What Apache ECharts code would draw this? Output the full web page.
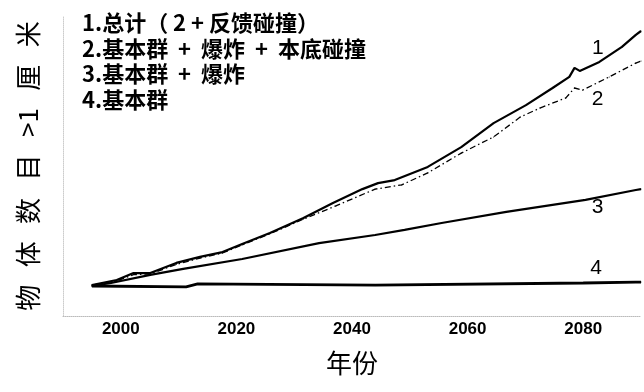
<!DOCTYPE html>
<html>
<head>
<meta charset="utf-8">
<script src="https://cdn.jsdelivr.net/npm/echarts@6/dist/echarts.min.js"></script>
<style>
  html, body { margin: 0; padding: 0; background: #fff; }
  #chart { width: 644px; height: 392px; }
</style>
</head>
<body>
<div id="chart"></div>
<script>
// Years shown on the horizontal axis
const tickYears = [2000, 2020, 2040, 2060, 2080];

// Projected counts of tracked objects (relative units), [year, value]
const totalSeries = [ // 1. 总计（2 + 反馈碰撞）
  [1995.0, 10.3], [1999.3, 12.0], [2002.2, 14.3], [2005.1, 14.3], [2009.6, 17.7],
  [2013.7, 19.7], [2017.6, 21.3], [2021.0, 24.0], [2025.8, 27.7], [2031.6, 32.7],
  [2036.7, 37.7], [2041.8, 42.3], [2044.5, 44.3], [2047.4, 45.3], [2053.1, 49.7],
  [2058.9, 56.3], [2064.5, 64.3], [2070.1, 70.3], [2074.7, 76.0], [2077.6, 79.7],
  [2078.5, 82.7], [2079.4, 81.7], [2082.8, 84.7], [2086.7, 89.7], [2089.1, 93.7],
  [2090.0, 95.0]
];
const collisionSeries = [ // 2. 基本群 + 爆炸 + 本底碰撞
  [1995.0, 10.3], [1999.3, 11.7], [2002.2, 13.8], [2005.1, 14.0], [2009.6, 17.2],
  [2013.7, 19.3], [2017.6, 21.0], [2021.0, 23.7], [2025.8, 27.4], [2031.6, 32.3],
  [2037.2, 36.7], [2044.0, 42.3], [2048.6, 43.7], [2053.1, 47.7], [2058.9, 54.3],
  [2064.5, 59.7], [2069.1, 66.3], [2072.5, 69.3], [2077.0, 72.7], [2078.5, 76.0],
  [2079.9, 75.3], [2084.5, 79.7], [2089.1, 84.3], [2090.0, 85.0]
];
const explosionSeries = [ // 3. 基本群 + 爆炸
  [1995.0, 10.0], [1998.3, 11.0], [2005.1, 13.7], [2010.8, 15.7], [2021.0, 19.0],
  [2034.3, 24.3], [2044.0, 27.0], [2049.1, 28.7], [2055.5, 31.0], [2066.7, 34.7],
  [2080.4, 38.7], [2089.1, 42.0], [2090.0, 42.3]
];
const baseSeries = [ // 4. 基本群
  [1995.0, 10.0], [2011.3, 9.7], [2013.3, 10.7], [2044.0, 10.3], [2080.0, 11.0],
  [2089.1, 11.3], [2090.0, 11.3]
];

// Curve numbers and the year each number sits beside
const curveNames = ['1', '2', '3', '4'];
const curveLabelYears = [2079.4, 2079.9, 2080.4, 2080.0];

const legendLines = [
  '1.总计（ 2 + 反馈碰撞）',
  '2.基本群  +  爆炸  +  本底碰撞',
  '3.基本群  +  爆炸',
  '4.基本群'
];

const labelOffsets = [[18, -23], [15, 9], [12, 7], [13, -15]];

const digitFont = '"Liberation Sans", Arial, sans-serif';

function withLabel(points, idx) {
  return points.map(function (p) {
    if (p[0] === curveLabelYears[idx]) {
      return {
        value: p,
        label: {
          show: true,
          formatter: curveNames[idx],
          position: 'inside',
          offset: labelOffsets[idx],
          fontFamily: digitFont,
          fontSize: 21,
          color: '#000'
        }
      };
    }
    return p;
  });
}

const lineBase = {
  type: 'line',
  symbol: 'circle',
  symbolSize: 1,
  showSymbol: true,
  showAllSymbol: true,
  silent: true,
  animation: false,
  smooth: false,
  itemStyle: { color: '#000' },
  label: { show: false }
};

const chart = echarts.init(document.getElementById('chart'));
chart.setOption({
  backgroundColor: '#fff',
  animation: false,
  grid: { left: 63, width: 586, top: 16, height: 300 },
  xAxis: {
    type: 'value',
    min: 1990,
    max: 2090,
    interval: 10,
    name: '年份',
    nameLocation: 'middle',
    nameGap: 34,
    nameTextStyle: { fontFamily: '"Noto Sans CJK SC", sans-serif', fontSize: 26, color: '#000' },
    axisLine: { show: true, lineStyle: { color: '#bbb', type: 'dotted', width: 1 } },
    axisTick: { show: false },
    splitLine: { show: false },
    axisLabel: {
      margin: 5,
      color: '#000',
      fontFamily: digitFont,
      fontWeight: 'bold',
      fontSize: 17,
      formatter: function (v) { return tickYears.indexOf(v) >= 0 ? String(v) : ''; }
    }
  },
  yAxis: {
    type: 'value',
    min: 0,
    max: 100,
    name: '物   体   数   目   >1   厘   米',
    nameLocation: 'middle',
    nameGap: 22,
    nameTextStyle: { fontFamily: '"Noto Sans CJK SC", sans-serif', fontSize: 26, color: '#000' },
    axisLine: { show: true, lineStyle: { color: '#ccc', type: 'dotted', width: 1 } },
    axisTick: { show: false },
    axisLabel: { show: false },
    splitLine: { show: false }
  },
  graphic: [{
    type: 'text',
    left: 82,
    top: 10,
    style: {
      text: legendLines.join('\n'),
      fontFamily: '"Noto Sans CJK SC", sans-serif',
      fontWeight: 'bold',
      fontSize: 22,
      lineHeight: 25.5,
      fill: '#000'
    }
  }],
  series: [
    Object.assign({}, lineBase, {
      name: curveNames[0],
      data: withLabel(totalSeries, 0),
      lineStyle: { color: '#000', width: 2.2 }
    }),
    Object.assign({}, lineBase, {
      name: curveNames[1],
      data: withLabel(collisionSeries, 1),
      lineStyle: { color: '#000', width: 1.3, type: [6, 3, 1.5, 3] }
    }),
    Object.assign({}, lineBase, {
      name: curveNames[2],
      data: withLabel(explosionSeries, 2),
      lineStyle: { color: '#000', width: 2.2 }
    }),
    Object.assign({}, lineBase, {
      name: curveNames[3],
      data: withLabel(baseSeries, 3),
      lineStyle: { color: '#000', width: 2.8 }
    })
  ]
});
</script>
</body>
</html>
